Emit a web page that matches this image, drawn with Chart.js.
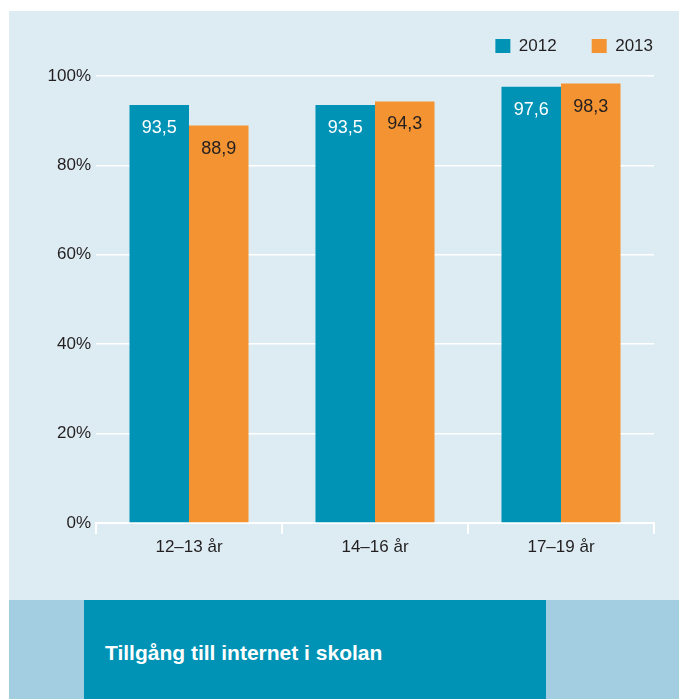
<!DOCTYPE html>
<html>
<head>
<meta charset="utf-8">
<script src="https://cdn.jsdelivr.net/npm/chart.js@4"></script>
<style>
  body { margin: 0; background: #ffffff; font-family: "Liberation Sans", Arial, sans-serif; }
  #panel { position: absolute; left: 9px; top: 11px; width: 670px; height: 589px; background: #ddecf3; }
  #band { position: absolute; left: 9px; top: 600px; width: 670px; height: 99px; background: #a3cde0; }
  #titleBox { position: absolute; left: 75px; top: 0; width: 462px; height: 99px; background: #0093b6; }
  #titleBox span { position: absolute; left: 21px; top: 40px; color: #ffffff; font-weight: bold; font-size: 21px; line-height: 26px; }
</style>
</head>
<body>
<div id="panel"><canvas id="chart" width="670" height="589"></canvas></div>
<div id="band"><div id="titleBox"><span>Tillgång till internet i skolan</span></div></div>
<script>
// data
const categories = ["12–13 år", "14–16 år", "17–19 år"];
const seriesNames = ["2012", "2013"];
const values2012 = [93.5, 93.5, 97.6];
const values2013 = [88.9, 94.3, 98.3];

const teal = "#0093b6";
const orange = "#f39331";
const ink = "#231f20";

// values inside the top of each bar
const valueLabels = {
  id: "valueLabels",
  afterDatasetsDraw(chart) {
    const ctx = chart.ctx;
    const colors = ["#ffffff", ink];
    ctx.save();
    ctx.font = "18px 'Liberation Sans', Arial, sans-serif";
    ctx.textAlign = "center";
    ctx.textBaseline = "middle";
    chart.data.datasets.forEach((ds, i) => {
      chart.getDatasetMeta(i).data.forEach((bar, j) => {
        ctx.fillStyle = colors[i];
        ctx.fillText(String(ds.data[j]).replace(".", ","), bar.x, bar.y + 23);
      });
    });
    ctx.restore();
  },
};

// push the legend up to the right corner
const legendPlace = {
  id: "legendPlace",
  beforeInit(chart) {
    const fit = chart.legend.fit;
    chart.legend.fit = function () {
      fit.call(this);
      this.height = 65;
    };
  },
  afterLayout(chart) {
    chart.legend.top = -8.5;
    chart.legend.right += 34;
  },
};

const ctx = document.getElementById("chart").getContext("2d");
new Chart(ctx, {
  type: "bar",
  data: {
    labels: categories,
    datasets: [
      { label: seriesNames[0], data: values2012, backgroundColor: teal },
      { label: seriesNames[1], data: values2013, backgroundColor: orange },
    ],
  },
  options: {
    responsive: false,
    animation: false,
    layout: { padding: { left: 0, right: 25, top: 0, bottom: 0 } },
    datasets: { bar: { barPercentage: 1, categoryPercentage: 0.64 } },
    plugins: {
      legend: {
        position: "top",
        align: "end",
        labels: {
          boxWidth: 15,
          boxHeight: 14,
          padding: 35,
          color: ink,
          font: { family: "'Liberation Sans', Arial, sans-serif", size: 17 },
        },
      },
      tooltip: { enabled: false },
    },
    scales: {
      x: {
        afterFit(scale) { scale.height = 77; },
        grid: { drawOnChartArea: false, color: "#ffffff", lineWidth: 2, tickLength: 11 },
        border: { color: "#ffffff", width: 2 },
        ticks: {
          color: ink,
          padding: 3,
          font: { family: "'Liberation Sans', Arial, sans-serif", size: 17 },
        },
      },
      y: {
        min: 0,
        max: 100,
        afterFit(scale) { scale.width = 87; },
        grid: { color: "#ffffff", lineWidth: 1.5, drawTicks: false },
        border: { display: false },
        ticks: {
          stepSize: 20,
          padding: 5,
          color: ink,
          font: { family: "'Liberation Sans', Arial, sans-serif", size: 17 },
          callback: (v) => v + "%",
        },
      },
    },
  },
  plugins: [valueLabels, legendPlace],
});
</script>
</body>
</html>
